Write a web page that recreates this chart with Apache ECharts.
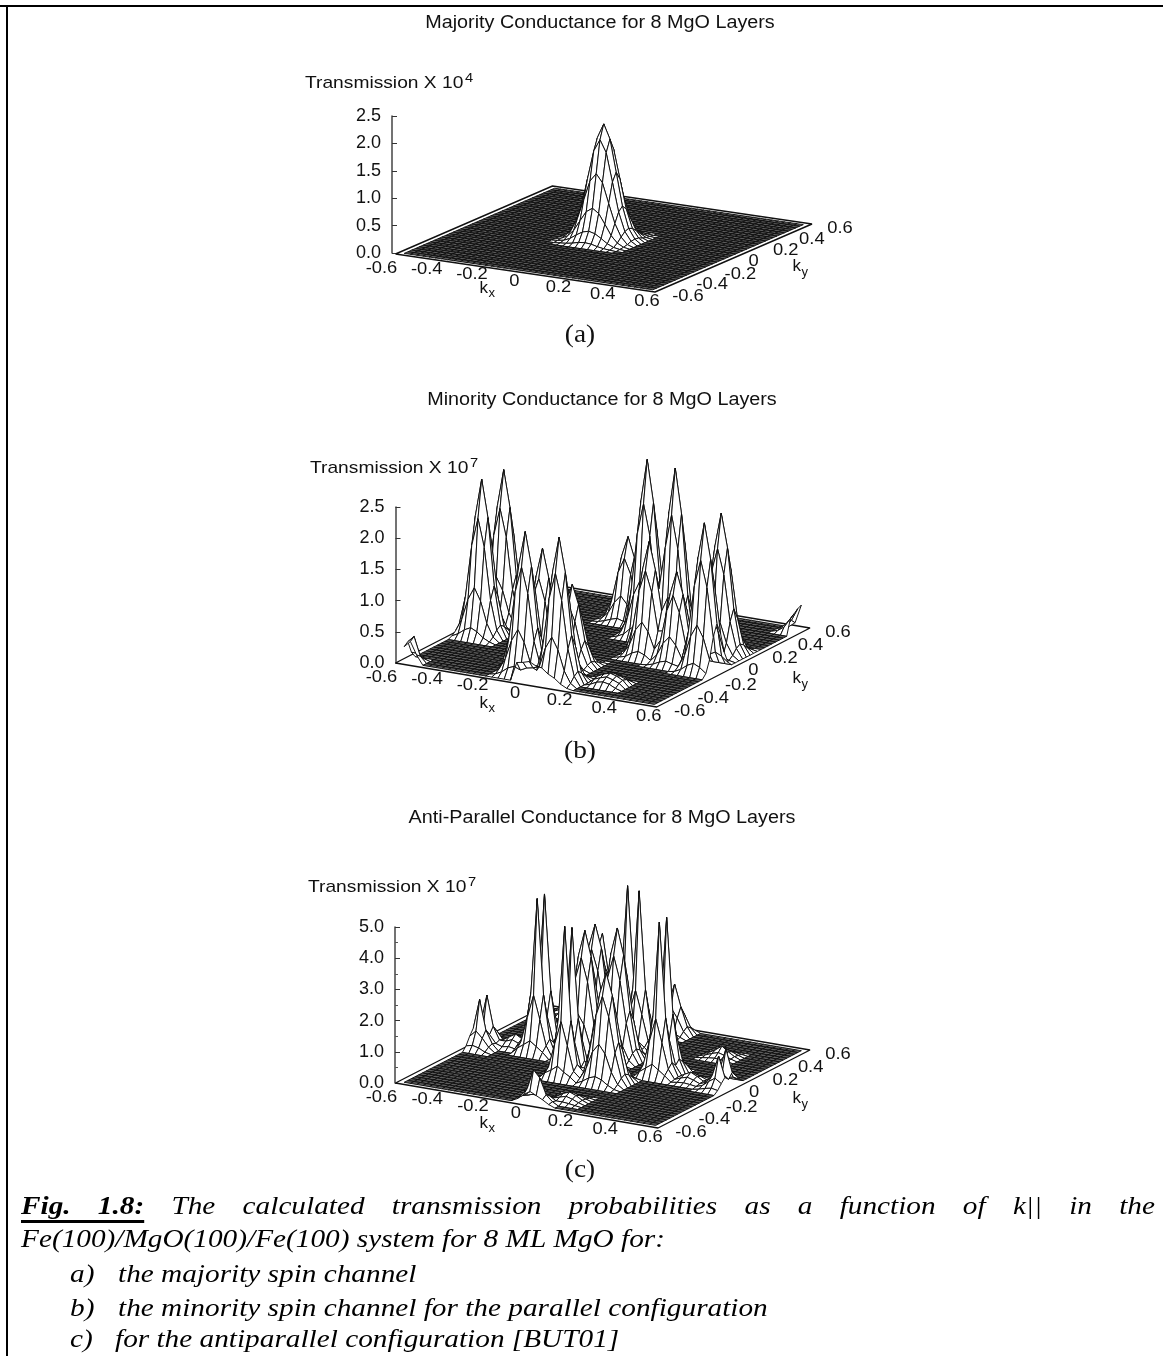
<!DOCTYPE html>
<html><head><meta charset="utf-8">
<style>html,body{margin:0;padding:0;background:#fff}#c{width:1163px;height:1356px;filter:blur(0.35px)}</style>
<script src="https://cdn.jsdelivr.net/npm/echarts@6/dist/echarts.min.js"></script>
</head><body><div id="c"></div>
<script>
// ---------- values (heights in hundredths of an axis unit) ----------
const meshSize = 41;
const meshExtent = 0.575;
const panelTitles = ['Majority Conductance for 8 MgO Layers','Minority Conductance for 8 MgO Layers','Anti-Parallel Conductance for 8 MgO Layers'];
const panelExponents = ['4','7','7'];
const panelTags = ['(a)','(b)','(c)'];
const kTicks = [-0.6,-0.4,-0.2,0,0.2,0.4,0.6];
const kLabels = ['-0.6','-0.4','-0.2','0','0.2','0.4','0.6'];
const captionWords = ['Fig.','1.8:','The','calculated','transmission','probabilities','as','a','function','of','k||','in','the'];
const captionLines = ['Fe(100)/MgO(100)/Fe(100) system for 8 ML MgO for:'];
const captionItems = [['a)','the majority spin channel'],['b)','the minority spin channel for the parallel configuration'],['c)','for the antiparallel configuration [BUT01]']];

// each block: [first kx index, first ky index, rows of heights]
const majorityBlocks = [
 [15,15,[[0,1,2,4,7,8,7,4,2,1,0],[1,3,8,16,23,26,23,16,8,3,1],[2,8,20,39,57,65,57,39,20,8,2],[4,16,39,74,110,125,110,74,39,16,4],[7,23,57,110,162,184,162,110,57,23,7],[8,26,65,125,184,210,184,125,65,26,8],[7,23,57,110,162,184,162,110,57,23,7],[4,16,39,74,110,125,110,74,39,16,4],[2,8,20,39,57,65,57,39,20,8,2],[1,3,8,16,23,26,23,16,8,3,1],[0,1,2,4,7,8,7,4,2,1,0]]]
];
const minorityBlocks = [
 [0,13,[[3,8,16,21,16,8,3],[8,28,62,82,62,28,8],[16,62,145,190,145,62,16],[21,82,190,250,190,82,21],[16,62,145,190,145,62,16],[8,28,62,82,62,28,8],[3,8,16,21,16,8,3]]],
 [0,19,[[3,8,16,21,16,8,3],[8,27,61,81,61,27,8],[16,61,143,188,143,61,16],[21,81,188,247,188,81,21],[16,61,143,188,143,61,16],[8,27,61,81,61,27,8],[3,8,16,21,16,8,3]]],
 [14,1,[[2,7,15,19,15,7,2],[7,25,56,75,56,25,7],[15,56,131,172,131,56,15],[19,75,172,226,172,75,19],[15,56,131,172,131,56,15],[7,25,56,75,56,25,7],[2,7,15,19,15,7,2]]],
 [20,0,[[2,7,15,20,15,7,2],[7,25,57,76,57,25,7],[15,57,133,175,133,57,15],[20,76,175,230,175,76,20],[15,57,133,175,133,57,15],[7,25,57,76,57,25,7],[2,7,15,20,15,7,2]]],
 [15,4,[[2,6,12,16,12,6,2],[6,21,48,63,48,21,6],[12,48,111,146,111,48,12],[16,63,146,192,146,63,16],[12,48,111,146,111,48,12],[6,21,48,63,48,21,6],[2,6,12,16,12,6,2]]],
 [18,7,[[1,4,8,11,8,4,1],[4,14,32,43,32,14,4],[8,32,75,99,75,32,8],[11,43,99,130,99,43,11],[8,32,75,99,75,32,8],[4,14,32,43,32,14,4],[1,4,8,11,8,4,1]]],
 [14,29,[[1,4,8,11,8,4,1],[4,14,32,44,32,14,4],[8,32,77,101,77,32,8],[11,44,101,133,101,44,11],[8,32,77,101,77,32,8],[4,14,32,44,32,14,4],[1,4,8,11,8,4,1]]],
 [20,24,[[3,8,18,24,18,8,3],[8,31,70,93,70,31,8],[18,70,164,214,164,70,18],[24,93,214,282,214,93,24],[18,70,164,214,164,70,18],[8,31,70,93,70,31,8],[3,8,18,24,18,8,3]]],
 [25,16,[[2,5,12,16,12,5,2],[5,20,46,60,46,20,5],[12,46,106,139,106,46,12],[16,60,139,183,139,60,16],[12,46,106,139,106,46,12],[5,20,46,60,46,20,5],[2,5,12,16,12,5,2]]],
 [28,18,[[3,9,20,25,20,9,3],[9,33,75,99,75,33,9],[20,75,174,228,174,75,20],[25,99,228,300,228,99,25],[20,75,174,228,174,75,20],[9,33,75,99,75,33,9],[3,9,20,25,20,9,3]]],
 [30,15,[[1,4,9,12,9,4,1],[4,16,36,48,36,16,4],[9,36,85,111,85,36,9],[12,48,111,146,111,48,12],[9,36,85,111,85,36,9],[4,16,36,48,36,16,4],[1,4,9,12,9,4,1]]],
 [35,14,[[2,7,15,20,15,7,2],[7,26,59,78,59,26,7],[15,59,137,179,137,59,15],[20,78,179,236,179,78,20],[15,59,137,179,137,59,15],[7,26,59,78,59,26,7],[2,7,15,20,15,7,2]]],
 [33,22,[[2,7,15,19,15,7,2],[7,25,56,74,56,25,7],[15,56,130,170,130,56,15],[19,74,170,224,170,74,19],[15,56,130,170,130,56,15],[7,25,56,74,56,25,7],[2,7,15,19,15,7,2]]],
 [0,0,[[25,35,15],[30,40,10],[10,10,3]]],
 [38,37,[[3,10,25],[5,15,30],[3,15,35],[0,8,38]]],
 [18,0,[[30,32,35,30,28],[15,20,22,20,15]]],
 [28,3,[[3,8,10,8,3],[8,12,15,12,8],[10,15,18,15,10],[8,12,15,12,8],[3,8,10,8,3]]]
];
const antiBlocks = [
 [7,19,[[20,35,50,35,20],[35,115,190,115,35],[50,190,494,190,50],[35,115,190,115,35],[20,35,50,35,20]]],
 [7,21,[[20,35,50,35,20],[35,115,190,115,35],[50,190,497,190,50],[35,115,190,115,35],[20,35,50,35,20]]],
 [16,11,[[20,32,48,32,20],[32,110,185,110,32],[48,185,484,185,48],[32,110,185,110,32],[20,32,48,32,20]]],
 [16,13,[[20,32,48,32,20],[32,110,180,110,32],[48,180,468,180,48],[32,110,180,110,32],[20,32,48,32,20]]],
 [15,30,[[20,35,50,35,20],[35,115,190,115,35],[50,190,497,190,50],[35,115,190,115,35],[20,35,50,35,20]]],
 [18,28,[[20,35,50,35,20],[35,115,190,115,35],[50,190,503,190,50],[35,115,190,115,35],[20,35,50,35,20]]],
 [27,18,[[20,35,50,35,20],[35,115,190,115,35],[50,190,494,190,50],[35,115,190,115,35],[20,35,50,35,20]]],
 [27,20,[[20,35,50,35,20],[35,115,190,115,35],[50,190,497,190,50],[35,115,190,115,35],[20,35,50,35,20]]],
 [13,19,[[4,16,33,41,33,16,4],[16,57,123,156,123,57,16],[33,123,254,328,254,123,33],[41,156,328,410,328,156,41],[33,123,254,328,254,123,33],[16,57,123,156,123,57,16],[4,16,33,41,33,16,4]]],
 [17,21,[[4,17,34,42,34,17,4],[17,59,126,160,126,59,17],[34,126,260,336,260,126,34],[42,160,336,420,336,160,42],[34,126,260,336,260,126,34],[17,59,126,160,126,59,17],[4,17,34,42,34,17,4]]],
 [21,11,[[4,14,28,35,28,14,4],[14,49,105,133,105,49,14],[28,105,217,280,217,105,28],[35,133,280,350,280,133,35],[28,105,217,280,217,105,28],[14,49,105,133,105,49,14],[4,14,28,35,28,14,4]]],
 [10,27,[[4,15,30,37,30,15,4],[15,52,112,141,112,52,15],[30,112,231,298,231,112,30],[37,141,298,372,298,141,37],[30,112,231,298,231,112,30],[15,52,112,141,112,52,15],[4,15,30,37,30,15,4]]],
 [11,30,[[15,40,60,40,15],[40,120,200,120,40],[60,200,330,200,60],[40,120,200,120,40],[15,40,60,40,15]]],
 [0,17,[[15,20,15,5],[40,60,40,15],[60,155,60,20],[40,60,40,15],[15,20,15,5]]],
 [0,19,[[15,20,15,5],[40,60,40,15],[60,157,60,20],[40,60,40,15],[15,20,15,5]]],
 [18,0,[[10,26,40,26,10],[14,40,103,40,14],[10,26,40,26,10],[4,10,14,10,4]]],
 [19,0,[[8,20,30,20,8],[11,30,80,30,11],[8,20,30,20,8],[3,8,11,8,3]]],
 [37,17,[[4,10,14,10,4],[10,26,40,26,10],[14,40,105,40,14],[10,26,40,26,10],[4,10,14,10,4]]],
 [37,19,[[4,10,14,10,4],[10,28,44,28,10],[14,44,116,44,14],[10,28,44,28,10],[4,10,14,10,4]]],
 [19,36,[[8,20,30,20,8],[20,60,90,60,20],[30,90,160,90,30],[20,60,90,60,20],[8,20,30,20,8]]],
 [3,20,[[3,8,12,8,3],[8,20,28,20,8],[12,28,40,28,12],[8,20,28,20,8],[3,8,12,8,3]]],
 [22,2,[[3,6,8,6,3],[6,14,20,14,6],[8,20,28,20,8],[6,14,20,14,6],[3,6,8,6,3]]],
 [32,18,[[3,6,8,6,3],[6,14,20,14,6],[8,20,30,20,8],[6,14,20,14,6],[3,6,8,6,3]]],
 [30,30,[[3,6,8,6,3],[6,14,20,14,6],[8,20,35,20,8],[6,14,20,14,6],[3,6,8,6,3]]],
 [2,37,[[3,8,12,8,3],[8,18,26,18,8],[12,26,34,26,12],[8,18,26,18,8]]]
];
const panelBlocks = [majorityBlocks, minorityBlocks, antiBlocks];

// ---------- layout ----------
const panels = [
 {axisX:392,  zeroY:253,  topY:116, max:2.5, interval:0.5, minor:false, L:[395.5,254],  F:[655,292],   R:[812,224],  titleY:23,  labelX:305, labelY:83,  tagY:335,  titleX:600},
 {axisX:395.5,zeroY:663,  topY:507, max:2.5, interval:0.5, minor:false, L:[395.5,663],  F:[656.7,707], R:[810,628],  titleY:400, labelX:310, labelY:468, tagY:751,  titleX:602},
 {axisX:395,  zeroY:1083, topY:927, max:5,   interval:1,   minor:true,  L:[395.5,1083], F:[658,1128],  R:[810,1050], titleY:818, labelX:308, labelY:887, tagY:1170, titleX:602}
];
const kxOffsets = [[-14,14],[-12,9],[-10,8],[-11,8],[-10,8],[-9,9],[-8,9]];
const kyOffsets = [[33,4],[31,4],[33,5],[20,3],[26,4],[26,4],[28,4]];
const sansFont = '17px "Liberation Sans",Arial,sans-serif';
const titleFont = '17.5px "Liberation Sans",Arial,sans-serif';
const supFont = '13px "Liberation Sans",Arial,sans-serif';
const serifItalic = 'italic 26px "Liberation Serif","Times New Roman",serif';
const serifBold = 'italic bold 26px "Liberation Serif","Times New Roman",serif';
const sansStretch = 1.13, tickStretch = 1.08, captionStretch = 1.126;

function project(p,kx,ky,z){
  const a=(kx+0.6)/1.2,b=(ky+0.6)/1.2;
  const sx=p.L[0]+a*(p.F[0]-p.L[0])+b*(p.R[0]-p.F[0])-p.axisX;
  const sy=p.L[1]+a*(p.F[1]-p.L[1])+b*(p.R[1]-p.F[1])-p.zeroY;
  return [sx, z-sy*p.max/(p.zeroY-p.topY)];
}
function buildGrid(blocks){
  const g=[];for(let i=0;i<meshSize;i++)g.push(new Array(meshSize).fill(0));
  blocks.forEach(([i0,j0,rows])=>rows.forEach((row,r)=>row.forEach((v,c)=>{
    const i=i0+c,j=j0+r;
    if(i>=0&&i<meshSize&&j>=0&&j<meshSize)g[i][j]=Math.max(g[i][j],v/100);
  })));
  return g;
}
function meshData(grid){
  const d=[];
  for(let i=0;i<meshSize-1;i++)for(let j=meshSize-2;j>=0;j--){
    d.push([i,j,grid[i][j],grid[i+1][j],grid[i+1][j+1],grid[i][j+1]]);
  }
  return d;
}
const kAt=n=>-meshExtent+2*meshExtent*n/(meshSize-1);

const grids=[],xAxes=[],yAxes=[],series=[],graphics=[];
panels.forEach((p,n)=>{
  const h=p.zeroY-p.topY,w=p.R[0]-p.axisX;
  grids.push({left:p.axisX,top:p.topY,width:w,height:h,containLabel:false});
  xAxes.push({gridIndex:n,type:'value',min:0,max:w,show:false});
  yAxes.push({gridIndex:n,type:'value',min:0,max:p.max,interval:p.interval,
    axisLine:{show:true,onZero:false,lineStyle:{color:'#444',width:1.5}},
    axisTick:{show:true,inside:true,length:5,lineStyle:{color:'#333',width:1}},
    minorTick:{show:p.minor,splitNumber:2,length:3,lineStyle:{color:'#555',width:1}},
    splitLine:{show:false},minorSplitLine:{show:false},
    axisLabel:{formatter:v=>v.toFixed(1),color:'#111',fontFamily:'Liberation Sans',fontSize:18,margin:11}
  });
  const c=[[-0.6,-0.6],[0.6,-0.6],[0.6,0.6],[-0.6,0.6],[-0.6,-0.6]];
  series.push({type:'line',xAxisIndex:n,yAxisIndex:n,symbol:'none',silent:true,clip:false,animation:false,z:2,
    lineStyle:{color:'#111',width:1.4},data:c.map(q=>project(p,q[0],q[1],0))});
  series.push({type:'custom',xAxisIndex:n,yAxisIndex:n,clip:false,silent:true,animation:false,progressive:0,z:3,
    data:meshData(buildGrid(panelBlocks[n])),
    renderItem:(params,api)=>{
      const i=api.value(0),j=api.value(1);
      const zs=[api.value(2),api.value(3),api.value(4),api.value(5)];
      const pts=[[i,j],[i+1,j],[i+1,j+1],[i,j+1]].map((q,m)=>api.coord(project(p,kAt(q[0]),kAt(q[1]),zs[m])));
      const flat=zs.every(v=>v===0);
      return {type:'polygon',shape:{points:pts},silent:true,
        style:{fill:flat?'#5c5c5c':'#fff',stroke:'#0c0c0c',lineWidth:flat?0.9:0.95}};
    }});
  series.push({type:'custom',xAxisIndex:n,yAxisIndex:n,clip:false,silent:true,animation:false,z:4,
    data:kTicks.map((k,m)=>[k,m]),
    renderItem:(params,api)=>{
      const k=api.value(0),m=api.value(1);
      const a=api.coord(project(p,k,-0.6,0)),b=api.coord(project(p,0.6,k,0));
      return {type:'group',children:[
        {type:'text',x:a[0]+kxOffsets[m][0],y:a[1]+kxOffsets[m][1],scaleX:tickStretch,style:{text:kLabels[m],font:sansFont,fill:'#111',align:'center',verticalAlign:'middle'}},
        {type:'text',x:b[0]+kyOffsets[m][0],y:b[1]+kyOffsets[m][1],scaleX:tickStretch,style:{text:kLabels[m],font:sansFont,fill:'#111',align:'center',verticalAlign:'middle'}}
      ]};
    }});
  const T=(text,x,y,font,align,sx)=>({type:'text',x,y,scaleX:sx||1,silent:true,style:{text,font,fill:'#111',align:align||'left',verticalAlign:'middle'}});
  graphics.push(T(panelTitles[n],p.titleX,p.titleY,titleFont,'center',sansStretch));
  graphics.push(T('Transmission X 10',p.labelX,p.labelY,sansFont,'left',sansStretch));
  graphics.push(T(panelExponents[n],p.labelX+160,p.labelY-5,supFont,'left',sansStretch));
  graphics.push(T(panelTags[n],580,p.tagY,'26px "Liberation Serif","Times New Roman",serif','center',1.05));
  graphics.push(T('k',p.L[0]+84,p.L[1]+34+(n?6:0),sansFont));
  graphics.push(T('x',p.L[0]+93,p.L[1]+39+(n?6:0),supFont));
  graphics.push(T('k',p.L[0]+397,p.L[1]+12+(n?3:0),sansFont));
  graphics.push(T('y',p.L[0]+406,p.L[1]+18+(n?3:0),supFont));
});
// page frame: top and left rules only
[[0,5,1163,2],[6,5,2,1351]].forEach(r=>graphics.push({type:'rect',shape:{x:r[0],y:r[1],width:r[2],height:r[3]},style:{fill:'#000'},silent:true}));
// justified caption
const mc=document.createElement('canvas').getContext('2d');
const fontFor=i=>i<2?serifBold:serifItalic;
const widths=captionWords.map((w,i)=>{mc.font=fontFor(i);return mc.measureText(w).width*captionStretch;});
const capL=21,capR=1155,baseShift=8.5;
const gap=(capR-capL-widths.reduce((a,b)=>a+b,0))/(captionWords.length-1);
const C=(text,x,base,font)=>({type:'text',x,y:base-baseShift,scaleX:captionStretch,silent:true,style:{text,font,fill:'#000',align:'left',verticalAlign:'middle'}});
let cx=capL;
captionWords.forEach((w,i)=>{graphics.push(C(w,cx,1216,fontFor(i)));cx+=widths[i]+gap;});
graphics.push({type:'rect',shape:{x:capL,y:1220,width:widths[0]+gap+widths[1],height:3},style:{fill:'#000'},silent:true});
graphics.push(C(captionLines[0],21,1249,serifItalic));
const itemBases=[1284,1318,1349],itemX=[118,118,115];
captionItems.forEach((it,m)=>{
  graphics.push(C(it[0],70,itemBases[m],serifItalic));
  graphics.push(C(it[1],itemX[m],itemBases[m],serifItalic));
});

const chart=echarts.init(document.getElementById('c'),null,{renderer:'canvas'});
chart.setOption({animation:false,backgroundColor:'#fff',grid:grids,xAxis:xAxes,yAxis:yAxes,series:series,graphic:graphics});
</script></body></html>
